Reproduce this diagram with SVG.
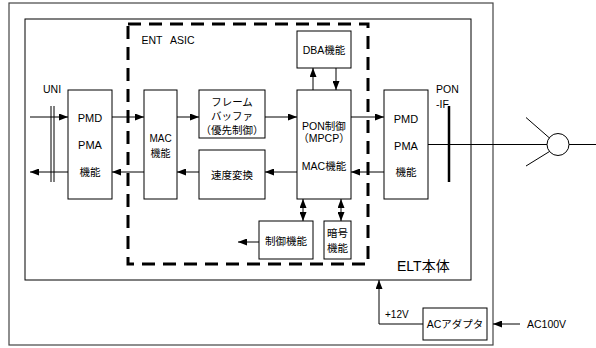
<svg xmlns="http://www.w3.org/2000/svg" width="596" height="348" viewBox="0 0 596 348">
<style>
  .box{fill:#fff;stroke:#000;stroke-width:1}
  .ln{fill:none;stroke:#000;stroke-width:1}
  .arr{fill:none;stroke:#000;stroke-width:1;marker-end:url(#ah)}
  .arr2{fill:none;stroke:#000;stroke-width:1;marker-end:url(#ah);marker-start:url(#ah)}
  text{font-family:"Liberation Sans","Noto Sans CJK JP",sans-serif;font-size:10.5px;fill:#000}
  .c{text-anchor:middle}
</style>
<defs>
  <marker id="ah" markerUnits="userSpaceOnUse" markerWidth="9" markerHeight="7" viewBox="0 0 9 7" refX="9" refY="3.5" orient="auto-start-reverse">
    <path d="M0,0 L9,3.5 L0,7 z" fill="#000"/>
  </marker>
</defs>

<g id="outer"><rect x="9" y="3" width="484" height="342" fill="none" stroke="#444" stroke-width="1.2"/></g>
<g id="elt">
  <rect x="25" y="19" width="446" height="261" fill="none" stroke="#000" stroke-width="1"/>
  <text x="397" y="271" style="font-size:14px">ELT本体</text>
</g>
<g id="asic">
  <rect x="128" y="24" width="240" height="240" fill="none" stroke="#000" stroke-width="3" stroke-dasharray="13 8"/>
  <text x="141.5" y="44">ENT</text>
  <text x="170" y="44">ASIC</text>
</g>

<g id="pmd-left">
  <rect class="box" x="68" y="90" width="44" height="109"/>
  <text class="c" x="90" y="122" style="font-size:11px">PMD</text>
  <text class="c" x="90" y="149" style="font-size:11px">PMA</text>
  <text class="c" x="90" y="176">機能</text>
</g>
<g id="mac">
  <rect class="box" x="144" y="90" width="33" height="109"/>
  <text class="c" x="160.5" y="142" style="font-size:10px">MAC</text>
  <text class="c" x="160.5" y="157" style="font-size:10px">機能</text>
</g>
<g id="framebuffer">
  <rect class="box" x="199" y="90" width="66" height="48"/>
  <text class="c" x="232" y="106">フレーム</text>
  <text class="c" x="232" y="120">バッファ</text>
  <text class="c" x="232" y="134">（優先制御）</text>
</g>
<g id="speed">
  <rect class="box" x="199" y="150" width="66" height="49"/>
  <text class="c" x="232" y="179">速度変換</text>
</g>
<g id="pon">
  <rect class="box" x="297" y="90" width="54" height="109"/>
  <text class="c" x="324" y="130">PON制御</text>
  <text class="c" x="324" y="142">（MPCP）</text>
  <text class="c" x="324" y="169.5">MAC機能</text>
</g>
<g id="dba">
  <rect class="box" x="297" y="31" width="54" height="37"/>
  <text class="c" x="324" y="54">DBA機能</text>
</g>
<g id="pmd-right">
  <rect class="box" x="384" y="90" width="44" height="109"/>
  <text class="c" x="406" y="122.5" style="font-size:11px">PMD</text>
  <text class="c" x="406" y="149.5" style="font-size:11px">PMA</text>
  <text class="c" x="406" y="176">機能</text>
</g>
<g id="control">
  <rect class="box" x="259" y="221" width="54" height="38"/>
  <text class="c" x="286" y="245">制御機能</text>
</g>
<g id="crypto">
  <rect class="box" x="324" y="221" width="27" height="38"/>
  <text class="c" x="337.5" y="237">暗号</text>
  <text class="c" x="337.5" y="251.5">機能</text>
</g>
<g id="acadapter">
  <rect class="box" x="423" y="308" width="64" height="32"/>
  <text class="c" x="455" y="328">ACアダプタ</text>
</g>
<g id="splitter">
  <circle cx="558" cy="144.5" r="11" fill="#fff" stroke="#000" stroke-width="1"/>
</g>

<g id="connectors">
  <path class="arr" d="M30,117 H68"/>
  <path class="arr" d="M112,117 H144"/>
  <path class="arr" d="M177,117 H199"/>
  <path class="arr" d="M265,117 H297"/>
  <path class="arr" d="M351,117 H384"/>
  <path class="arr" d="M384,172 H351"/>
  <path class="arr" d="M297,172 H265"/>
  <path class="arr" d="M199,172 H177"/>
  <path class="arr" d="M144,172 H112"/>
  <path class="arr" d="M68,172 H30"/>
  <path class="arr" d="M313,90 V68"/>
  <path class="arr" d="M336,68 V90"/>
  <path class="arr2" d="M303,199 V221"/>
  <path class="arr2" d="M341,199 V221"/>
  <path class="arr" d="M259,242 H238"/>
  <path class="arr" d="M423,324 H379 V280"/>
  <path class="arr" d="M520,324 H493"/>
  <path class="ln" d="M428,144.5 H547 M569,144.5 H596"/>
  <path class="ln" d="M526,117.5 L549.5,138 M526,166 L549.5,151.5"/>
  <path class="ln" d="M51,106 V182 M54,106 V182"/>
  <path d="M449,106 V182" stroke="#000" stroke-width="2.5" fill="none"/>
  <text x="43" y="93">UNI</text>
  <text x="436" y="93">PON</text>
  <text x="436" y="107.5">-IF</text>
  <text x="385" y="317.5" style="font-size:10px">+12V</text>
  <text x="527" y="328">AC100V</text>
</g>
</svg>
